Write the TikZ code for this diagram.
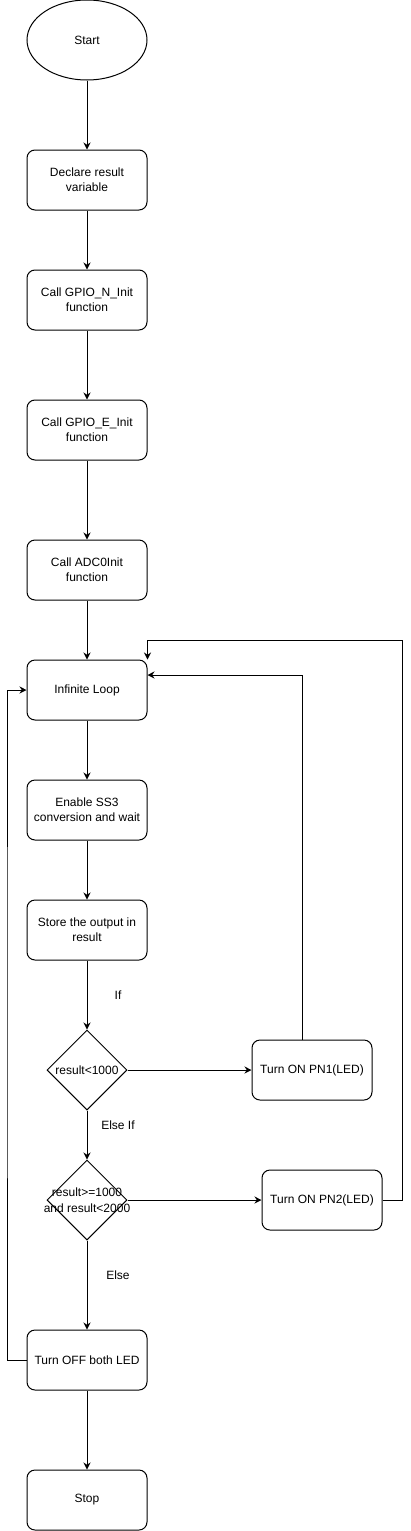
\documentclass[tikz,border=0pt]{standalone}
\usepackage{fontspec}
\setmainfont{Liberation Sans}
\usetikzlibrary{shapes.geometric, arrows.meta, positioning}

\begin{document}
\begin{tikzpicture}[x=1pt, y=-1pt, line width=1pt,
  font=\fontsize{12}{15}\selectfont,
  box/.style={draw, rounded corners=8pt, minimum width=120pt, minimum height=60pt, align=center, inner sep=2pt},
  decision/.style={draw, diamond, minimum width=80pt, minimum height=80pt, inner sep=0pt},
  arrow/.style={-{Stealth[length=7pt, width=7pt]}}]
  \useasboundingbox (0,0) rectangle (411,1531);

  % Define the main column of steps
  \node[draw, ellipse, minimum width=120pt, minimum height=80pt] (start) at (87,40) {Start};
  \node[box] (declare) at (87,180) {Declare result\\variable};
  \node[box] (gpion) at (87,300) {Call GPIO\_N\_Init\\function};
  \node[box] (gpioe) at (87,430) {Call GPIO\_E\_Init\\function};
  \node[box] (adcinit) at (87,570) {Call ADC0Init\\function};
  \node[box] (loop) at (87,690) {Infinite Loop};
  \node[box] (enable) at (87,810) {Enable SS3\\conversion and wait};
  \node[box] (store) at (87,930) {Store the output in\\result};

  % The two tests and their branches
  \node[decision, label=center:result<1000] (cond1) at (87,1070) {};
  \node[box] (pn1) at (312,1070) {Turn ON PN1(LED)};
  \node[decision, label={[align=center, font=\fontsize{12}{16}\selectfont]center:result>=1000\\and result<2000}] (cond2) at (87,1200) {};
  \node[box] (pn2) at (322,1200) {Turn ON PN2(LED)};

  \node[box] (off) at (87,1360) {Turn OFF both LED};
  \node[box] (stop) at (87,1500) {Stop};

  % Corners of the return lines
  \coordinate (back1) at (7,1000);
  \coordinate (back2) at (402,640);

  % Draw the arrows down the column
  \draw[arrow] (start) -- (declare);
  \draw[arrow] (declare) -- (gpion);
  \draw[arrow] (gpion) -- (gpioe);
  \draw[arrow] (gpioe) -- (adcinit);
  \draw[arrow] (adcinit) -- (loop);
  \draw[arrow] (loop) -- (enable);
  \draw[arrow] (enable) -- (store);
  \draw[arrow] (store) -- node[xshift=31pt] {If} (cond1);
  \draw[arrow] (cond1) -- node[xshift=31pt, yshift=10pt] {Else If} (cond2);
  \draw[arrow] (cond2) -- node[xshift=31pt, yshift=10pt] {Else} (off);
  \draw[arrow] (off) -- (stop);
  \draw[arrow] (cond1) -- (pn1);
  \draw[arrow] (cond2) -- (pn2);

  % Drawing the lines back to the loop
  \draw[arrow] ([xshift=-10pt]pn1.north) |- ([yshift=15pt]loop.east);
  \draw[arrow] (pn2.east) -| (back2) -| (loop.north east);
  \draw[arrow] (off.west) -| (back1) |- (loop.west);

\end{tikzpicture}
\end{document}
